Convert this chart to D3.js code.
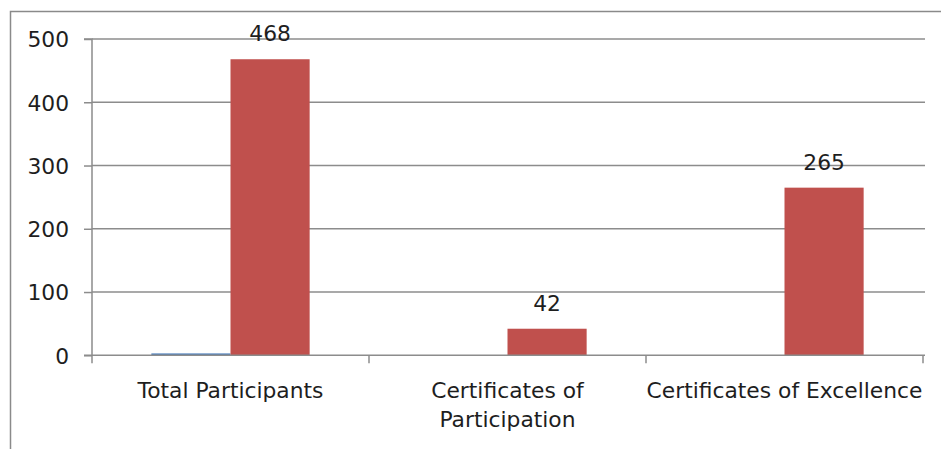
<!DOCTYPE html>
<html>
<head>
<meta charset="utf-8">
<script src="https://cdn.jsdelivr.net/npm/d3@7"></script>
<style>
  html, body { margin: 0; padding: 0; background: #fff; }
  svg { display: block; }
  text { font-family: "DejaVu Sans", sans-serif; fill: #1e1e1e; }
</style>
</head>
<body>
<script>
const categories = [["Total Participants"], ["Certificates of", "Participation"], ["Certificates of Excellence"]];
const seriesNames = ["Series1", "Series2"];
const series1 = [3, 0, 0];
const series2 = [468, 42, 265];
const yTicks = [0, 100, 200, 300, 400, 500];
const colors = ["#4F81BD", "#C0504D"];

const W = 941, H = 449;
const FS = 21.8;
const svg = d3.select("body").append("svg").attr("width", W).attr("height", H);

// chart frame (partially visible)
svg.append("path").attr("d", `M10.5,${H} L10.5,11.5 L${W},11.5`)
  .attr("fill", "none").attr("stroke", "#8a8a8a").attr("stroke-width", 1.5);

const left = 92, right = 923, y0 = 355.3, yTop = 39;
const catKeys = categories.map((c, i) => i);
const x = d3.scaleBand().domain(catKeys).range([left, right]).paddingInner(0).paddingOuter(0);
const y = d3.scaleLinear().domain([0, 500]).range([y0, yTop]);

// gridlines
svg.append("g").selectAll("line").data(yTicks.filter(t => t > 0)).join("line")
  .attr("x1", left).attr("x2", right + 2)
  .attr("y1", d => y(d)).attr("y2", d => y(d))
  .attr("stroke", "#8c8c8c").attr("stroke-width", 1.5);

// bars
const gap = 1.5; // gap width 150%
const barW = x.bandwidth() / (2 + gap);
const allSeries = [series1, series2];
allSeries.forEach((vals, si) => {
  svg.append("g").selectAll("rect").data(vals).join("rect")
    .attr("x", (d, i) => x(i) + barW * gap / 2 + si * barW)
    .attr("width", barW)
    .attr("y", d => y(d))
    .attr("height", d => y(0) - y(d))
    .attr("fill", colors[si]);
});

// data labels for series 2
svg.append("g").selectAll("text").data(series2).join("text")
  .attr("x", (d, i) => x(i) + barW * gap / 2 + barW * 1.5)
  .attr("y", d => y(d) - 18)
  .attr("text-anchor", "middle")
  .attr("font-size", FS)
  .text(d => d);

// y axis
const yAxis = d3.axisLeft(y).tickValues(yTicks).tickSize(8).tickPadding(15).tickFormat(d3.format("d"));
const gy = svg.append("g").attr("transform", `translate(${left},0)`).call(yAxis);
gy.select(".domain").attr("stroke", "#8c8c8c").attr("stroke-width", 1.5).attr("d", `M-8,${yTop}H0V${y0}`);
gy.selectAll(".tick line").attr("stroke", "#8c8c8c").attr("stroke-width", 1.5);
gy.selectAll(".tick text").attr("font-size", FS).attr("fill", "#1e1e1e")
  .attr("font-family", "DejaVu Sans, sans-serif").attr("dy", "0.36em");

// x axis
const xBound = d3.scaleLinear().domain([0, 3]).range([left, right]);
const gx = svg.append("g");
gx.append("line").attr("x1", left - 8).attr("x2", right + 2).attr("y1", y0).attr("y2", y0)
  .attr("stroke", "#8c8c8c").attr("stroke-width", 1.5);
gx.selectAll("line.tk").data([0, 1, 2, 3]).join("line").attr("class", "tk")
  .attr("x1", d => xBound(d)).attr("x2", d => xBound(d))
  .attr("y1", y0).attr("y2", y0 + 8)
  .attr("stroke", "#8c8c8c").attr("stroke-width", 1.5);

const lab = gx.selectAll("text.cat").data(categories).join("text").attr("class", "cat")
  .attr("text-anchor", "middle").attr("font-size", FS)
  .attr("x", (d, i) => x(i) + x.bandwidth() / 2)
  .attr("y", 398);
lab.selectAll("tspan").data(d => d).join("tspan")
  .attr("x", function() { return d3.select(this.parentNode).attr("x"); })
  .attr("dy", (d, i) => i === 0 ? 0 : 29)
  .text(d => d);
</script>
</body>
</html>
